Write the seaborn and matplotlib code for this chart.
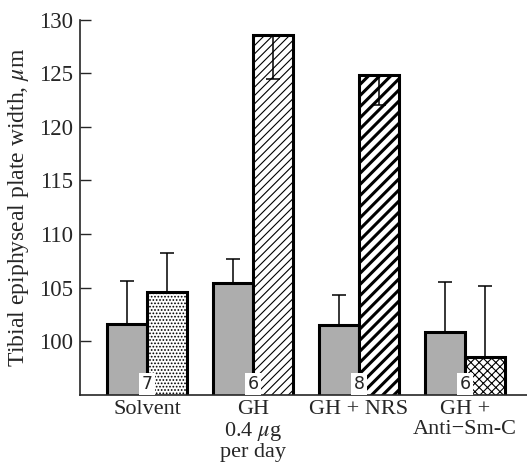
import matplotlib
matplotlib.use('Agg')
import matplotlib.pyplot as plt
import pandas as pd
import seaborn as sns

# Data
groups = ['Solvent', 'GH\n0.4 $\\mu$g\nper day', 'GH + NRS', 'GH +\nAnti\u2212Sm-C']
control_mean = [101.6, 105.4, 101.5, 100.9]
control_sem = [4.0, 2.3, 2.8, 4.6]
treated_mean = [104.6, 128.6, 124.8, 98.5]
treated_sem = [3.6, 4.1, 2.8, 6.7]
treated_err_dir = [1, -1, -1, 1]   # error bar drawn up (1) or down into the bar (-1)
n_animals = ['7', '6', '8', '6']
treated_hatch = ['.....', '////', '///', 'xxxx']

df = pd.DataFrame({
    'group': groups * 2,
    'kind': ['control'] * 4 + ['treated'] * 4,
    'width': control_mean + treated_mean,
})

sns.set_style('ticks')
plt.rcParams['font.family'] = ['Liberation Serif', 'DejaVu Serif']
plt.rcParams['mathtext.fontset'] = 'stix'
plt.rcParams['hatch.linewidth'] = 0.8

fig = plt.figure(figsize=(5.27, 4.69), dpi=100)
ax = fig.add_axes([0.152, 0.158, 0.848, 0.8])

sns.barplot(data=df, x='group', y='width', hue='kind', order=groups,
            palette={'control': '#adadad', 'treated': 'white'},
            width=0.755, gap=0, edgecolor='black', linewidth=2.2,
            errorbar=None, legend=False, ax=ax)

bars = sorted([p for p in ax.patches if p.get_height() != 0], key=lambda p: p.get_x())
ctl_bars = bars[0::2]
trt_bars = bars[1::2]

for i, (cb, tb) in enumerate(zip(ctl_bars, trt_bars)):
    tb.set_hatch(treated_hatch[i])
    if i == 2 and hasattr(tb, 'set_hatch_linewidth'):
        tb.set_hatch_linewidth(2.2)
    # control error bar (upward)
    cx = cb.get_x() + cb.get_width() / 2
    ax.errorbar(cx, control_mean[i], yerr=[[0], [control_sem[i]]], fmt='none',
                ecolor='black', elinewidth=1.1, capsize=5, capthick=1.1, zorder=5)
    tx = tb.get_x() + tb.get_width() / 2
    if treated_err_dir[i] > 0:
        yerr = [[0], [treated_sem[i]]]
    else:
        yerr = [[treated_sem[i]], [0]]
    ax.errorbar(tx, treated_mean[i], yerr=yerr, fmt='none',
                ecolor='black', elinewidth=1.1, capsize=5, capthick=1.1, zorder=5)
    # number of animals in a small white box at the bar junction
    ax.text(cb.get_x() + cb.get_width(), 95.15, n_animals[i], ha='center', va='bottom',
            fontsize=12.5, family='DejaVu Sans', zorder=6,
            bbox=dict(boxstyle='square,pad=0.12', facecolor='white', edgecolor='none'))

ax.set_ylim(95, 130)
ax.set_xlim(-0.632, 3.585)
ax.set_yticks([100, 105, 110, 115, 120, 125, 130])
ax.tick_params(axis='y', direction='in', length=8, width=1, labelsize=16.5, pad=5)
ax.tick_params(axis='x', length=0, labelsize=16, pad=4)
for lab in ax.get_xticklabels():
    lab.set_linespacing(1.02)
ax.set_xlabel('')
ax.set_ylabel('Tibial epiphyseal plate width, $\\mu$m', fontsize=17, labelpad=6)
sns.despine(ax=ax, top=True, right=True)
ax.spines['left'].set_linewidth(1.2)
ax.spines['bottom'].set_linewidth(1.2)

fig.savefig('out.png', dpi=100)
